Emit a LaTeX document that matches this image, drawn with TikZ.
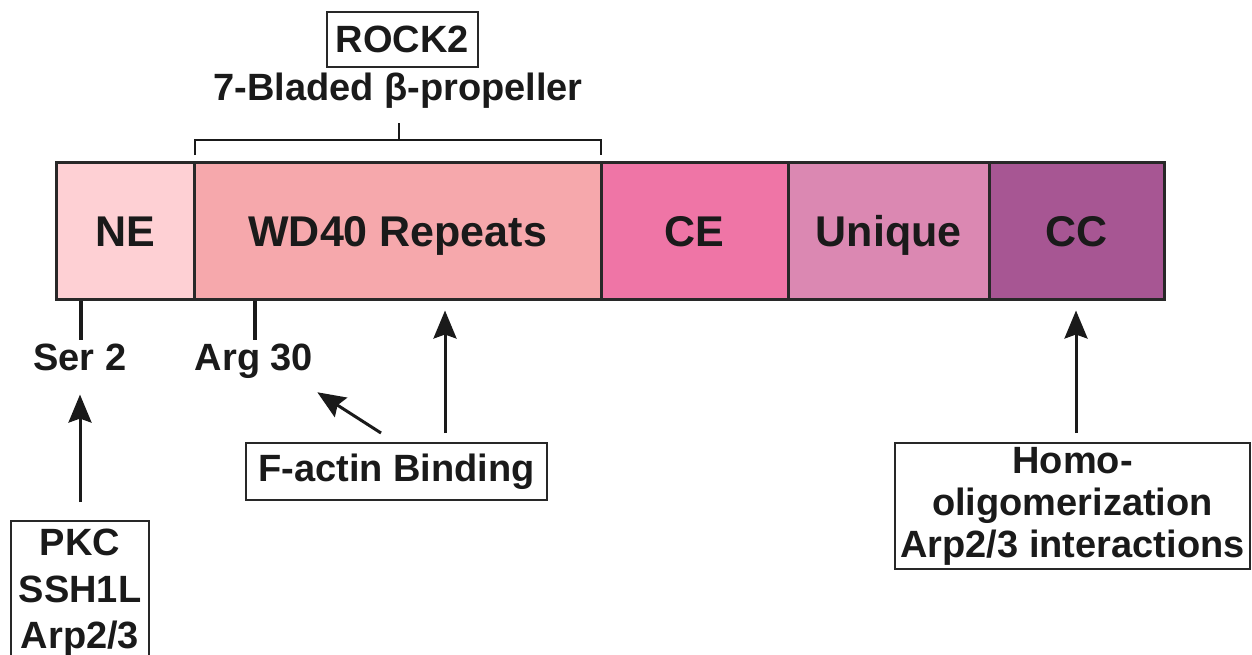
\documentclass[tikz,border=0pt]{standalone}
\usepackage{fontspec}
\setmainfont{Liberation Sans}
\usetikzlibrary{arrows.meta,calc}
\definecolor{NEc}{RGB}{254,208,212}
\definecolor{WDc}{RGB}{246,168,172}
\definecolor{CEc}{RGB}{239,117,166}
\definecolor{UNc}{RGB}{219,136,178}
\definecolor{CCc}{RGB}{167,86,147}
\definecolor{ink}{RGB}{26,26,26}
\definecolor{edge}{RGB}{40,40,40}
\begin{document}
\begin{tikzpicture}[x=1pt,y=-1pt,
  dombox/.style={draw=edge, line width=2.5pt, anchor=north west, minimum height=137pt, inner sep=0pt, text height=31pt, text depth=0pt, font=\fontsize{43}{50}\selectfont\bfseries, text=ink},
  lab/.style={font=\fontsize{38}{44}\selectfont\bfseries, text=ink, inner sep=3pt},
  infobox/.style={draw=edge, line width=2pt, font=\fontsize{38}{44}\selectfont\bfseries, text=ink, align=center},
  arr/.style={draw=ink, line width=3pt, -{Stealth[length=28pt,width=23pt,inset=4pt]}},
  tickmark/.style={draw=ink, line width=4.5pt},
  bracketline/.style={draw=ink, line width=2.5pt}]
\useasboundingbox (0,0) rectangle (1252,654);
\fill[white] (0,0) rectangle (1252,654);

% domains
\node[dombox, fill=NEc, minimum width=138pt] (ne) at (55,161) {NE};
\node[dombox, fill=WDc, minimum width=407pt] (wd) at (193,161) {WD40 Repeats};
\node[dombox, fill=CEc, minimum width=187pt] (ce) at (600,161) {CE};
\node[dombox, fill=UNc, minimum width=201pt] (un) at (787,161) {Unique};
\node[dombox, fill=CCc, minimum width=175pt] (cc) at (988,161) {CC};

% top labels
\node[infobox, minimum width=151pt, minimum height=55pt, inner sep=0pt] (rock) at (402.5,39.5) {ROCK2};
\node[lab, anchor=base] (prop) at (398,100) {7-Bladed β-propeller};
\coordinate (bl) at (195,155);
\coordinate (br) at (601,155);
\coordinate (bm) at (399,140);
\coordinate (bt) at (399,123);
\draw[bracketline] (bl) -- (bl |- bm) -- (br |- bm) -- (br);
\draw[bracketline] (bm) -- (bt);

% residue labels
\node[lab, anchor=base] (ser) at (80,370) {Ser 2};
\node[lab, anchor=base] (arg) at (254,370) {Arg 30};
\coordinate (serx) at (81,0);
\coordinate (argx) at (255,0);
\draw[tickmark] (ne.south -| serx) -- (ser.north -| serx);
\draw[tickmark] (wd.south -| argx) -- (arg.north -| argx);

% F-actin
\node[infobox, minimum width=301pt, minimum height=57pt, inner sep=0pt] (fact) at (396.5,471.5) {F-actin Binding};
\coordinate (fax) at (445,0);
\draw[arr, shorten <=9pt, shorten >=10pt] (fact.north -| fax) -- (wd.south -| fax);
\draw[arr] ($(fact.north)+(-15.5,-9)$) -- ($(arg.south east)+(1,11)$);

% PKC box
\node[infobox, anchor=north, minimum width=138pt, inner xsep=0pt, inner ysep=8pt, font=\fontsize{38}{46.5}\selectfont\bfseries] (pkc) at (80,520) {PKC\\SSH1L\\Arp2/3};
\draw[arr, shorten <=18pt, shorten >=21pt] (pkc.north) -- (ser.south -| pkc.north);

% Homo box
\node[infobox, anchor=north, minimum width=355pt, inner xsep=0pt, inner ysep=4pt, font=\fontsize{38}{42}\selectfont\bfseries] (homo) at (1072.5,442) {Homo-\\oligomerization\\Arp2/3 interactions};
\coordinate (hx) at (1076,0);
\draw[arr, shorten <=9pt, shorten >=10pt] (homo.north -| hx) -- (cc.south -| hx);
\end{tikzpicture}
\end{document}
